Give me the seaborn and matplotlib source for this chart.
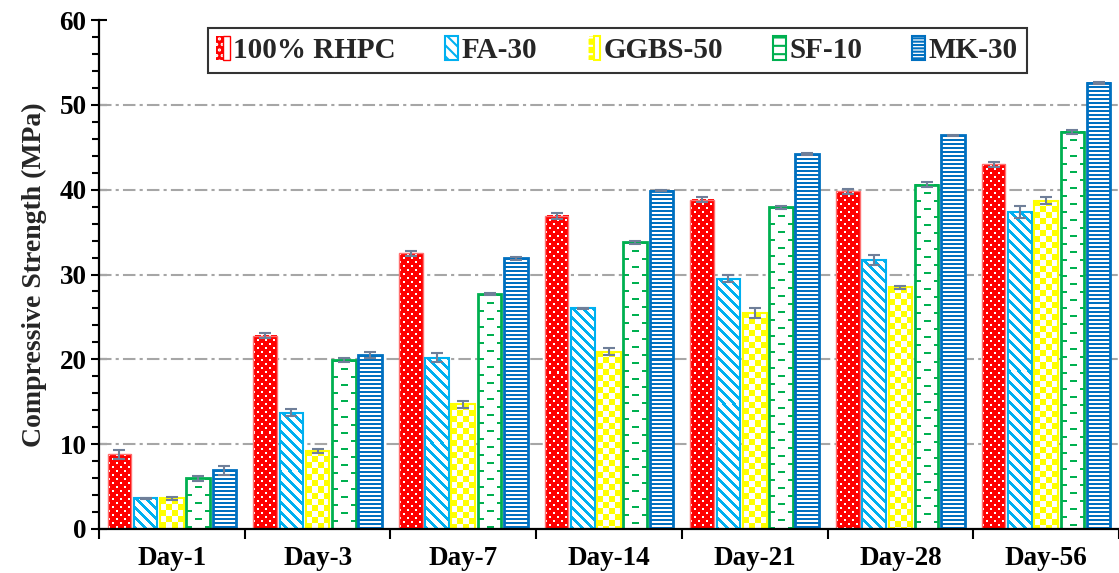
import numpy as np
import pandas as pd
import matplotlib
matplotlib.use("Agg")
import matplotlib.pyplot as plt
import seaborn as sns
from matplotlib.patches import Patch
from matplotlib.ticker import MultipleLocator, FixedLocator
from matplotlib.legend_handler import HandlerTuple

# ---------------- data ----------------
days = ["Day-1", "Day-3", "Day-7", "Day-14", "Day-21", "Day-28", "Day-56"]
mixes = ["100% RHPC", "FA-30", "GGBS-50", "SF-10", "MK-30"]

rhpc = [8.8, 22.8, 32.5, 36.9, 38.8, 39.8, 43.0]
fa30 = [3.6, 13.7, 20.2, 26.0, 29.5, 31.7, 37.4]
ggbs50 = [3.6, 9.2, 14.7, 20.9, 25.5, 28.5, 38.7]
sf10 = [6.0, 19.9, 27.7, 33.8, 37.9, 40.6, 46.8]
mk30 = [6.9, 20.5, 31.9, 39.9, 44.2, 46.4, 52.6]

rhpc_err = [0.5, 0.3, 0.3, 0.3, 0.3, 0.3, 0.3]
fa30_err = [0.1, 0.4, 0.5, 0.1, 0.4, 0.6, 0.7]
ggbs50_err = [0.2, 0.2, 0.4, 0.4, 0.6, 0.2, 0.4]
sf10_err = [0.3, 0.2, 0.1, 0.2, 0.2, 0.3, 0.2]
mk30_err = [0.5, 0.4, 0.2, 0.1, 0.1, 0.1, 0.1]

values = [rhpc, fa30, ggbs50, sf10, mk30]
errors = [rhpc_err, fa30_err, ggbs50_err, sf10_err, mk30_err]
colors = ["#FF0000", "#00B0F0", "#FFFF00", "#00B050", "#0070C0"]

df = pd.DataFrame({
    "Day": [d for m in mixes for d in days],
    "Mix": [m for m in mixes for d in days],
    "Strength": [v for vals in values for v in vals],
})

# ---------------- style ----------------
sns.set_theme(style="white")
plt.rcParams["font.family"] = ["Liberation Serif", "DejaVu Serif"]
plt.rcParams["font.weight"] = "bold"
plt.rcParams["hatch.linewidth"] = 1.5

fig = plt.figure(figsize=(11.19, 5.73), dpi=100)
ax = fig.add_axes([99 / 1119, 1 - 529 / 573, 1 - 99 / 1119, (529 - 20) / 573])

sns.barplot(data=df, x="Day", y="Strength", hue="Mix", order=days,
            hue_order=mixes, palette=colors, width=0.9, gap=0.1,
            errorbar=None, legend=False, ax=ax, zorder=3)

ax.set_ylim(0, 60)
ax.set_xlim(-0.5, len(days) - 0.5)

# ---------------- pattern fills ----------------
def pat_dots(h, w):
    r, c = np.mgrid[0:h, 0:w]
    return ((r % 8 < 2) & (c % 8 < 2)) | (((r + 4) % 8 < 2) & ((c + 4) % 8 < 2))

def pat_diag(h, w):
    r, c = np.mgrid[0:h, 0:w]
    return ((c - r) % 10) < 4

def pat_check(h, w):
    r, c = np.mgrid[0:h, 0:w]
    return ((r // 6 + c // 6) % 2) == 0

def pat_dash(h, w):
    r, c = np.mgrid[0:h, 0:w]
    rowA = (r % 16 < 2) & ((c < 0.22 * w) | (c >= 0.78 * w))
    rowB = ((r + 8) % 16 < 2) & ((c >= 0.35 * w) & (c < 0.65 * w))
    return rowA | rowB

def pat_hstripe(h, w):
    r, c = np.mgrid[0:h, 0:w]
    return (r % 4) < 2

patterns = [
    (pat_dots, "#FFFFFF", "#FF0000", "#FF7070", 1.0),
    (pat_diag, "#00B0F0", "#FFFFFF", "#00B0F0", 1.5),
    (pat_check, "#FFFF00", "#FFFFFF", "#FFFF00", 1.5),
    (pat_dash, "#00B050", "#FFFFFF", "#00B050", 2.0),
    (pat_hstripe, "#0070C0", "#FFFFFF", "#0070C0", 2.0),
]

def to_rgb(hx):
    hx = hx.lstrip("#")
    return np.array([int(hx[i:i + 2], 16) / 255 for i in (0, 2, 4)])

fig.canvas.draw()
renderer = fig.canvas.get_renderer()
n_days = len(days)
bars = [p for p in ax.patches]
centers = []
for i, patch in enumerate(bars):
    k = i // n_days
    func, fg, bg, ec, lw = patterns[k]
    bb = patch.get_window_extent(renderer)
    w = max(int(round(bb.width)), 1)
    h = max(int(round(bb.height)), 1)
    mask = func(h, w)
    img = np.where(mask[..., None], to_rgb(fg), to_rgb(bg))
    x0 = patch.get_x()
    x1 = x0 + patch.get_width()
    y0 = patch.get_y()
    y1 = y0 + patch.get_height()
    ax.imshow(img, extent=(x0, x1, y0, y1), origin="upper", aspect="auto",
              interpolation="nearest", zorder=2.5)
    patch.set_facecolor("none")
    patch.set_edgecolor(ec)
    patch.set_linewidth(lw)
    patch.set_zorder(3)
    centers.append((k, i % n_days, x0 + patch.get_width() / 2, y1))

# error bars
for k in range(len(mixes)):
    xs = [c[2] for c in centers if c[0] == k]
    ys = [c[3] for c in centers if c[0] == k]
    ax.errorbar(xs, ys, yerr=errors[k], fmt="none", ecolor="#6F7F99",
                elinewidth=1.5, capsize=4.5, capthick=1.5, zorder=4)

ax.set_ylim(0, 60)
ax.set_xlim(-0.5, len(days) - 0.5)

# ---------------- axes styling ----------------
ax.yaxis.set_major_locator(MultipleLocator(10))
ax.yaxis.set_minor_locator(MultipleLocator(2))
ax.xaxis.set_minor_locator(FixedLocator(np.arange(-0.5, len(days), 1.0)))
ax.grid(False)
for y in range(10, 60, 10):
    ax.axhline(y, color="#A6A6A6", lw=1.5, dashes=(6, 2, 1.5, 2), zorder=1)

for s in ["top", "right"]:
    ax.spines[s].set_visible(False)
for s in ["left", "bottom"]:
    ax.spines[s].set_color("black")
    ax.spines[s].set_linewidth(1.6)
    ax.spines[s].set_zorder(5)

ax.tick_params(axis="y", which="major", direction="inout", length=12, width=1.5,
               colors="black", labelsize=19.5, pad=3, left=True)
ax.tick_params(axis="y", which="minor", direction="out", length=5, width=1.5,
               colors="black", left=True)
ax.tick_params(axis="x", which="major", length=0, labelsize=19.5, pad=12,
               colors="black")
ax.tick_params(axis="x", which="minor", direction="out", length=7, width=1.5,
               colors="black", bottom=True)
for lab in ax.get_xticklabels() + ax.get_yticklabels():
    lab.set_fontweight("bold")

ax.set_xlabel("")
ax.set_ylabel("Compressive Strength (MPa)", fontsize=20, fontweight="bold",
              labelpad=9)

# ---------------- legend ----------------
handles = [
    (Patch(facecolor="#FF0000", edgecolor="white", hatch="...", lw=0),
     Patch(facecolor="none", edgecolor="#FF0000", lw=1)),
    (Patch(facecolor="white", edgecolor="#00B0F0", hatch="\\\\\\", lw=1.5),),
    (Patch(facecolor="#FFFF00", edgecolor="white", hatch="++", lw=0),
     Patch(facecolor="none", edgecolor="#FFFF00", lw=1.5)),
    (Patch(facecolor="white", edgecolor="#00B050", hatch="--", lw=1.5),),
    (Patch(facecolor="white", edgecolor="#0070C0", hatch="-----", lw=1.5),),
]
leg = ax.legend(handles, mixes, loc="upper center", bbox_to_anchor=(0.508, 0.985),
                ncol=5, frameon=True, fancybox=False, edgecolor="black",
                prop={"family": "Liberation Serif", "weight": "bold", "size": 21},
                handlelength=0.45, handleheight=0.85, handletextpad=0.12,
                columnspacing=1.7, borderpad=0.3, borderaxespad=0,
                handler_map={tuple: HandlerTuple(ndivide=None, pad=0)})
leg.get_frame().set_linewidth(1.5)
leg.set_zorder(6)

fig.savefig("out.png", dpi=100)
